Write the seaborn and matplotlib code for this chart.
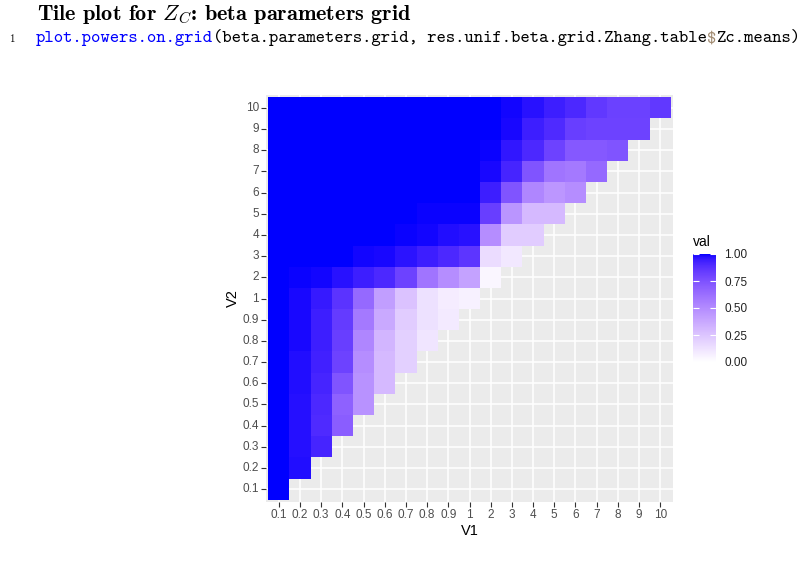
import numpy as np
import pandas as pd
import seaborn as sns
import matplotlib.pyplot as plt
from matplotlib.colors import ListedColormap
from matplotlib.font_manager import FontProperties

plt.rcParams['font.family'] = ['Liberation Sans', 'DejaVu Sans']
plt.rcParams['mathtext.fontset'] = 'cm'

# grid levels for both beta parameters
levels = ['0.1', '0.2', '0.3', '0.4', '0.5', '0.6', '0.7', '0.8', '0.9', '1',
          '2', '3', '4', '5', '6', '7', '8', '9', '10']

# Zc.means, one list per V2 row, V1 running from 0.1 up to V2
v2_01 = [1.0]
v2_02 = [1.0, 0.98]
v2_03 = [1.0, 0.975, 0.92]
v2_04 = [1.0, 0.975, 0.90, 0.70]
v2_05 = [1.0, 0.975, 0.91, 0.68, 0.47]
v2_06 = [1.0, 0.98, 0.92, 0.74, 0.47, 0.30]
v2_07 = [1.0, 0.98, 0.93, 0.81, 0.49, 0.30, 0.20]
v2_08 = [1.0, 0.985, 0.94, 0.83, 0.52, 0.32, 0.20, 0.11]
v2_09 = [1.0, 0.985, 0.94, 0.84, 0.58, 0.37, 0.22, 0.13, 0.09]
v2_1 = [1.0, 0.985, 0.95, 0.87, 0.65, 0.42, 0.26, 0.13, 0.08, 0.06]
v2_2 = [1.0, 0.995, 0.99, 0.97, 0.94, 0.91, 0.81, 0.60, 0.49, 0.40, 0.04]
v2_3 = [1.0, 1.0, 1.0, 1.0, 0.99, 0.985, 0.965, 0.94, 0.91, 0.86, 0.15, 0.10]
v2_4 = [1.0, 1.0, 1.0, 1.0, 1.0, 1.0, 0.995, 0.99, 0.98, 0.97, 0.49, 0.22, 0.22]
v2_5 = [1.0, 1.0, 1.0, 1.0, 1.0, 1.0, 1.0, 0.995, 0.995, 0.995, 0.83, 0.46, 0.30,
        0.30]
v2_6 = [1.0, 1.0, 1.0, 1.0, 1.0, 1.0, 1.0, 1.0, 1.0, 1.0, 0.94, 0.74, 0.52, 0.45,
        0.49]
v2_7 = [1.0, 1.0, 1.0, 1.0, 1.0, 1.0, 1.0, 1.0, 1.0, 1.0, 0.985, 0.92, 0.74, 0.60,
        0.58, 0.65]
v2_8 = [1.0, 1.0, 1.0, 1.0, 1.0, 1.0, 1.0, 1.0, 1.0, 1.0, 0.995, 0.96, 0.91, 0.81,
        0.72, 0.72, 0.74]
v2_9 = [1.0, 1.0, 1.0, 1.0, 1.0, 1.0, 1.0, 1.0, 1.0, 1.0, 1.0, 0.985, 0.94, 0.90,
        0.83, 0.81, 0.81, 0.81]
v2_10 = [1.0, 1.0, 1.0, 1.0, 1.0, 1.0, 1.0, 1.0, 1.0, 1.0, 1.0, 0.99, 0.97, 0.94,
         0.91, 0.85, 0.82, 0.82, 0.85]

rows = [v2_01, v2_02, v2_03, v2_04, v2_05, v2_06, v2_07, v2_08, v2_09, v2_1,
        v2_2, v2_3, v2_4, v2_5, v2_6, v2_7, v2_8, v2_9, v2_10]

mat = np.full((len(levels), len(levels)), np.nan)
for j, r in enumerate(rows):
    mat[j, :len(r)] = r
df = pd.DataFrame(mat, index=levels, columns=levels).iloc[::-1]


# white -> blue gradient interpolated in Lab, like ggplot's scale_fill_gradient
WP = np.array([0.95047, 1.0, 1.08883])
M = np.array([[0.4124, 0.3576, 0.1805],
              [0.2126, 0.7152, 0.0722],
              [0.0193, 0.1192, 0.9505]])


def to_lab(rgb):
    c = np.asarray(rgb, float)
    lin = np.where(c <= 0.04045, c / 12.92, ((c + 0.055) / 1.055) ** 2.4)
    xyz = M @ lin / WP
    f = np.where(xyz > 0.008856, np.cbrt(xyz), 7.787 * xyz + 16 / 116)
    return np.array([116 * f[1] - 16, 500 * (f[0] - f[1]), 200 * (f[1] - f[2])])


def from_lab(lab):
    L, a, b = lab
    fy = (L + 16) / 116
    f = np.array([fy + a / 500, fy, fy - b / 200])
    xyz = np.where(f ** 3 > 0.008856, f ** 3, (f - 16 / 116) / 7.787) * WP[:, None]
    lin = np.clip(np.linalg.inv(M) @ xyz, 0, 1)
    c = np.where(lin <= 0.0031308, 12.92 * lin, 1.055 * lin ** (1 / 2.4) - 0.055)
    return np.clip(c.T, 0, 1)


t = np.linspace(0, 1, 256)
lab0, lab1 = to_lab([1, 1, 1]), to_lab([0, 0, 1])
cmap = ListedColormap(from_lab(lab0[:, None] * (1 - t) + lab1[:, None] * t))

fig = plt.figure(figsize=(8.11, 5.64), dpi=100)
ax = fig.add_axes([266 / 811, 62 / 564, 407 / 811, 407 / 564])
cax = fig.add_axes([693 / 811, 202 / 564, 23 / 811, 108 / 564])

sns.heatmap(df, ax=ax, cbar_ax=cax, cmap=cmap, vmin=0, vmax=1,
            linewidths=0, antialiased=False,
            cbar_kws={'ticks': [0, 0.25, 0.5, 0.75, 1]})

ax.set_facecolor('#EBEBEB')
ax.set_xlim(-0.1, 19.1)
ax.set_ylim(19.1, -0.1)
ax.set_xticks(np.arange(19) + 0.5, levels, rotation=0)
ax.set_yticks(np.arange(19) + 0.5, levels[::-1], rotation=0)
ax.grid(True, color='white', lw=1.1)
ax.set_axisbelow(True)
ax.tick_params(length=3.5, width=0.8, color='#333333', labelcolor='#4D4D4D',
               labelsize=8.5, pad=1.5)
ax.set_xlabel('V1', fontsize=10.5, labelpad=2)
ax.set_ylabel('V2', fontsize=10.5, labelpad=2)

cb = ax.collections[0].colorbar
cb.outline.set_visible(False)
cb.set_ticks([0, 0.25, 0.5, 0.75, 1], labels=['0.00', '0.25', '0.50', '0.75', '1.00'])
cax.tick_params(direction='in', length=4.5, width=0.8, color='white',
                left=True, right=True, labelsize=8.5, labelcolor='#222222', pad=6)
fig.text(693 / 811, 1 - 242 / 564, 'val', fontsize=10, va='center', ha='left')

# document text above the chart
fig.text(37 / 811, 1 - 20 / 564, r'Tile plot for $Z_C$: beta parameters grid',
         fontfamily='cmb10', fontsize=16, va='baseline')
fig.text(9 / 811, 1 - 42 / 564, '1', fontfamily='cmr10', fontsize=8, va='baseline')

# code line, pieces placed one after another
segments = [('plot.powers.on.grid', '#0000ff'),
            ('(beta.parameters.grid, res.unif.beta.grid.Zhang.table', 'black'),
            ('$', '#a08a70'),
            ('Zc.means)', 'black')]
renderer = fig.canvas.get_renderer()
tt = FontProperties(family='cmtt10', size=12.8)


def width(s):
    return renderer.get_text_width_height_descent(s, tt, ismath=False)[0]


x0 = 36.0
prefix = ''
for s, col in segments:
    x = x0 if not prefix else x0 + width(prefix + s[0]) - width(s[0])
    fig.text(x / 811, 1 - 42 / 564, s.replace('$', '\\$'), fontproperties=tt,
             va='baseline', color=col)
    prefix += s

fig.savefig('out.png', dpi=100)
